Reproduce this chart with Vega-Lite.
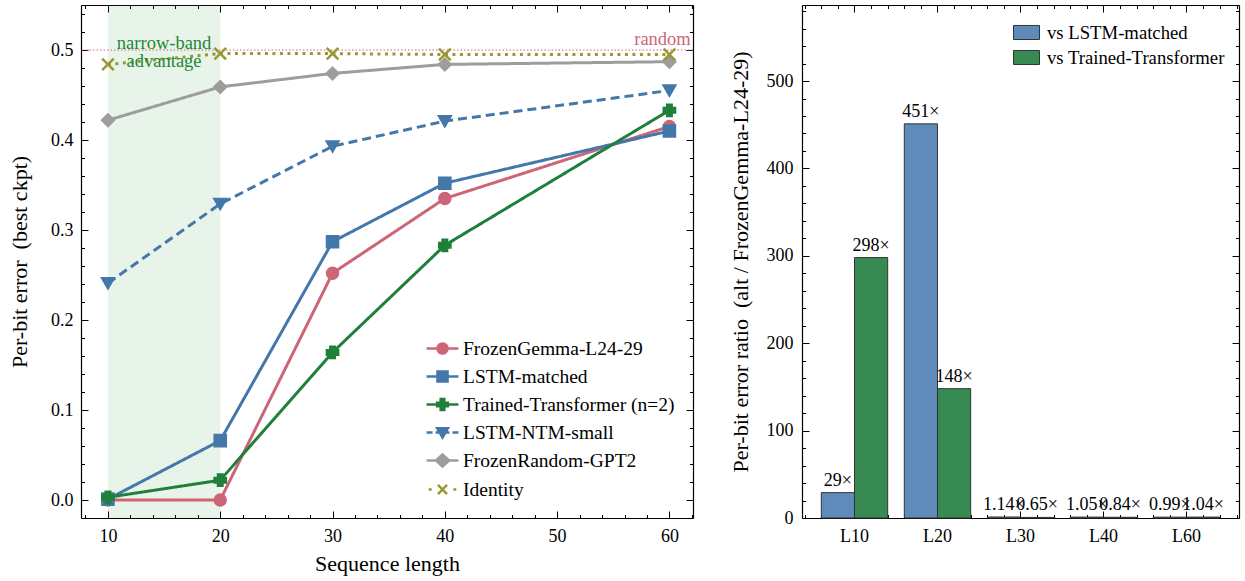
{
  "$schema": "https://vega.github.io/schema/vega-lite/v6.json",
  "padding": {"left": 8, "top": 4, "right": 2, "bottom": 5},
  "background": "white",
  "datasets": {
    "perf": [
      {"model": "FrozenGemma-L24-29", "len": 10, "err": 0.0},
      {"model": "FrozenGemma-L24-29", "len": 20, "err": 0.0},
      {"model": "FrozenGemma-L24-29", "len": 30, "err": 0.252},
      {"model": "FrozenGemma-L24-29", "len": 40, "err": 0.335},
      {"model": "FrozenGemma-L24-29", "len": 60, "err": 0.415},
      {"model": "LSTM-matched", "len": 10, "err": 0.001},
      {"model": "LSTM-matched", "len": 20, "err": 0.066},
      {"model": "LSTM-matched", "len": 30, "err": 0.287},
      {"model": "LSTM-matched", "len": 40, "err": 0.352},
      {"model": "LSTM-matched", "len": 60, "err": 0.41},
      {"model": "Trained-Transformer (n=2)", "len": 10, "err": 0.003},
      {"model": "Trained-Transformer (n=2)", "len": 20, "err": 0.022},
      {"model": "Trained-Transformer (n=2)", "len": 30, "err": 0.164},
      {"model": "Trained-Transformer (n=2)", "len": 40, "err": 0.283},
      {"model": "Trained-Transformer (n=2)", "len": 60, "err": 0.433},
      {"model": "LSTM-NTM-small", "len": 10, "err": 0.241},
      {"model": "LSTM-NTM-small", "len": 20, "err": 0.329},
      {"model": "LSTM-NTM-small", "len": 30, "err": 0.393},
      {"model": "LSTM-NTM-small", "len": 40, "err": 0.421},
      {"model": "LSTM-NTM-small", "len": 60, "err": 0.455},
      {"model": "FrozenRandom-GPT2", "len": 10, "err": 0.422},
      {"model": "FrozenRandom-GPT2", "len": 20, "err": 0.459},
      {"model": "FrozenRandom-GPT2", "len": 30, "err": 0.474},
      {"model": "FrozenRandom-GPT2", "len": 40, "err": 0.484},
      {"model": "FrozenRandom-GPT2", "len": 60, "err": 0.487},
      {"model": "Identity", "len": 10, "err": 0.484},
      {"model": "Identity", "len": 20, "err": 0.496},
      {"model": "Identity", "len": 30, "err": 0.496},
      {"model": "Identity", "len": 40, "err": 0.495},
      {"model": "Identity", "len": 60, "err": 0.495}
    ],
    "ratio": [
      {"group": "L10", "series": "vs LSTM-matched", "value": 29, "label": "29×"},
      {"group": "L10", "series": "vs Trained-Transformer", "value": 298, "label": "298×"},
      {"group": "L20", "series": "vs LSTM-matched", "value": 451, "label": "451×"},
      {"group": "L20", "series": "vs Trained-Transformer", "value": 148, "label": "148×"},
      {"group": "L30", "series": "vs LSTM-matched", "value": 1.14, "label": "1.14×"},
      {"group": "L30", "series": "vs Trained-Transformer", "value": 0.65, "label": "0.65×"},
      {"group": "L40", "series": "vs LSTM-matched", "value": 1.05, "label": "1.05×"},
      {"group": "L40", "series": "vs Trained-Transformer", "value": 0.84, "label": "0.84×"},
      {"group": "L60", "series": "vs LSTM-matched", "value": 0.99, "label": "0.99×"},
      {"group": "L60", "series": "vs Trained-Transformer", "value": 1.04, "label": "1.04×"}
    ],
    "band": [{"start": 10, "end": 20}],
    "one": [{"note": "annotation"}]
  },
  "spacing": 35,
  "resolve": {"legend": {"opacity": "independent", "fill": "independent"}},
  "hconcat": [
    {
      "width": 612,
      "height": 513,
      "layer": [
        {
          "data": {"name": "band"},
          "mark": {"type": "rect", "color": "#228833", "opacity": 0.1},
          "encoding": {
            "x": {"field": "start", "type": "quantitative", "scale": {"domain": [7.6, 62.1], "nice": false, "zero": false}, "axis": null},
            "x2": {"field": "end"}
          }
        },
        {
          "data": {"name": "one"},
          "mark": {"type": "rule", "color": "#CC6677", "strokeDash": [1.5, 2], "strokeWidth": 1},
          "encoding": {
            "y": {"datum": 0.5, "type": "quantitative", "scale": {"domain": [-0.02, 0.55], "nice": false, "zero": false}, "axis": null}
          }
        },
        {
          "data": {"name": "perf"},
          "mark": {"type": "line", "strokeWidth": 3, "strokeCap": "butt"},
          "encoding": {
            "x": {
              "field": "len", "type": "quantitative",
              "scale": {"domain": [7.6, 62.1], "nice": false, "zero": false},
              "axis": {
                "orient": "bottom", "title": "Sequence length",
                "values": [8, 10, 12, 14, 16, 18, 20, 22, 24, 26, 28, 30, 32, 34, 36, 38, 40, 42, 44, 46, 48, 50, 52, 54, 56, 58, 60, 62],
                "labelExpr": "datum.value % 10 === 0 ? datum.label : ''",
                "tickSize": {"condition": {"test": "datum.value % 10 === 0", "value": -7}, "value": -3.5},
                "labelFont": "Liberation Serif",
                "labelPadding": 16, "titlePadding": 8
              }
            },
            "y": {
              "field": "err", "type": "quantitative",
              "scale": {"domain": [-0.02, 0.55], "nice": false, "zero": false},
              "axis": {
                "orient": "left", "title": "Per-bit error \u00a0(best ckpt)",
                "values": [0, 0.02, 0.04, 0.06, 0.08, 0.1, 0.12, 0.14, 0.16, 0.18, 0.2, 0.22, 0.24, 0.26, 0.28, 0.3, 0.32, 0.34, 0.36, 0.38, 0.4, 0.42, 0.44, 0.46, 0.48, 0.5, 0.52, 0.54],
                "labelExpr": "abs(datum.value*10 - round(datum.value*10)) < 0.001 ? format(datum.value, '.1f') : ''",
                "tickSize": {"condition": {"test": "abs(datum.value*10 - round(datum.value*10)) < 0.001", "value": -7}, "value": -3.5},
                "labelFont": "Liberation Serif",
                "labelPadding": 15, "titlePadding": 19
              }
            },
            "color": {
              "field": "model", "type": "nominal",
              "scale": {
                "domain": ["FrozenGemma-L24-29", "LSTM-matched", "Trained-Transformer (n=2)", "LSTM-NTM-small", "FrozenRandom-GPT2", "Identity"],
                "range": ["#CC6677", "#4477AA", "#208039", "#4477AA", "#9d9d9d", "#999933"]
              },
              "legend": null
            },
            "strokeDash": {
              "field": "model", "type": "nominal",
              "scale": {
                "domain": ["FrozenGemma-L24-29", "LSTM-matched", "Trained-Transformer (n=2)", "LSTM-NTM-small", "FrozenRandom-GPT2", "Identity"],
                "range": [[1, 0], [1, 0], [1, 0], [9, 5], [1, 0], [3, 4.5]]
              },
              "legend": null
            }
          }
        },
        {
          "data": {"name": "perf"},
          "mark": {"type": "point", "filled": true, "opacity": 1, "strokeWidth": 2.5},
          "encoding": {
            "x": {"field": "len", "type": "quantitative", "scale": {"domain": [7.6, 62.1], "nice": false, "zero": false}, "axis": null},
            "y": {"field": "err", "type": "quantitative", "scale": {"domain": [-0.02, 0.55], "nice": false, "zero": false}, "axis": null},
            "color": {"field": "model", "type": "nominal", "legend": null},
            "stroke": {
              "field": "model", "type": "nominal",
              "scale": {
                "domain": ["FrozenGemma-L24-29", "LSTM-matched", "Trained-Transformer (n=2)", "LSTM-NTM-small", "FrozenRandom-GPT2", "Identity"],
                "range": ["#CC6677", "#4477AA", "#208039", "#4477AA", "#9d9d9d", "#999933"]
              },
              "legend": null
            },
            "shape": {
              "field": "model", "type": "nominal",
              "scale": {
                "domain": ["FrozenGemma-L24-29", "LSTM-matched", "Trained-Transformer (n=2)", "LSTM-NTM-small", "FrozenRandom-GPT2", "Identity"],
                "range": ["circle", "square", "cross", "triangle-down", "diamond", "M-1,-1L1,1M-1,1L1,-1"]
              },
              "legend": null
            },
            "size": {
              "field": "model", "type": "nominal",
              "scale": {
                "domain": ["FrozenGemma-L24-29", "LSTM-matched", "Trained-Transformer (n=2)", "LSTM-NTM-small", "FrozenRandom-GPT2", "Identity"],
                "range": [120, 135, 140, 140, 190, 105]
              },
              "legend": null
            }
          }
        },
        {
          "data": {"name": "perf"},
          "mark": {"type": "point", "size": 0, "strokeWidth": 0, "filled": true},
          "encoding": {
            "x": {"field": "len", "type": "quantitative", "scale": {"domain": [7.6, 62.1], "nice": false, "zero": false}, "axis": null},
            "y": {"field": "err", "type": "quantitative", "scale": {"domain": [-0.02, 0.55], "nice": false, "zero": false}, "axis": null},
            "opacity": {
              "field": "model", "type": "nominal",
              "sort": ["FrozenGemma-L24-29", "LSTM-matched", "Trained-Transformer (n=2)", "LSTM-NTM-small", "FrozenRandom-GPT2", "Identity"],
              "scale": {"range": [1, 1]},
              "legend": {
                "title": null, "orient": "bottom-right", "offset": 18, "padding": 0,
                "symbolSize": 576, "symbolStrokeWidth": 2.5,
                "labelFont": "Liberation Serif", "labelFontSize": 19.5, "labelOffset": 7, "rowPadding": 4, "labelLimit": 400,
                "encoding": {
                  "symbols": {
                    "shape": {"value": {"expr": "datum.value === 'FrozenGemma-L24-29' ? 'M-1.33,0H1.33M0.42,0A0.42,0.42,0,1,1,-0.42,0A0.42,0.42,0,1,1,0.42,0Z' : datum.value === 'LSTM-matched' ? 'M-1.33,0H1.33M-0.42,-0.42H0.42V0.42H-0.42Z' : datum.value === 'Trained-Transformer (n=2)' ? 'M-1.33,0H1.33M-0.15,-0.45H0.15V-0.15H0.45V0.15H0.15V0.45H-0.15V0.15H-0.45V-0.15H-0.15Z' : datum.value === 'LSTM-NTM-small' ? 'M-1.33,0H-0.83M-0.58,0H-0.3M0.3,0H0.58M0.83,0H1.33M-0.45,-0.35H0.45L0,0.42Z' : datum.value === 'FrozenRandom-GPT2' ? 'M-1.33,0H1.33M0,-0.5L0.55,0L0,0.5L-0.55,0Z' : 'M-1.15,0H-0.9M0.9,0H1.15M-0.38,-0.38L0.38,0.38M-0.38,0.38L0.38,-0.38'"}},
                    "fill": {"value": {"expr": "datum.value === 'FrozenGemma-L24-29' ? '#CC6677' : datum.value === 'LSTM-matched' ? '#4477AA' : datum.value === 'Trained-Transformer (n=2)' ? '#208039' : datum.value === 'LSTM-NTM-small' ? '#4477AA' : datum.value === 'FrozenRandom-GPT2' ? '#9d9d9d' : '#999933'"}},
                    "stroke": {"value": {"expr": "datum.value === 'FrozenGemma-L24-29' ? '#CC6677' : datum.value === 'LSTM-matched' ? '#4477AA' : datum.value === 'Trained-Transformer (n=2)' ? '#208039' : datum.value === 'LSTM-NTM-small' ? '#4477AA' : datum.value === 'FrozenRandom-GPT2' ? '#9d9d9d' : '#999933'"}},
                    "size": {"value": 576},
                    "strokeWidth": {"value": 2.5},
                    "fillOpacity": {"value": 1},
                    "strokeOpacity": {"value": 1}
                  }
                }
              }
            }
          }
        },
        {
          "data": {"name": "one"},
          "mark": {"type": "text", "text": ["narrow-band", "advantage"], "color": "#228833", "font": "Liberation Serif", "fontSize": 18.5, "lineHeight": 18, "align": "center", "baseline": "middle"},
          "encoding": {
            "x": {"datum": 15, "type": "quantitative", "axis": null},
            "y": {"datum": 0.508, "type": "quantitative", "axis": null}
          }
        },
        {
          "data": {"name": "one"},
          "mark": {"type": "text", "text": "random", "color": "#CC6677", "font": "Liberation Serif", "fontSize": 18.5, "align": "right", "baseline": "bottom", "dy": -1},
          "encoding": {
            "x": {"datum": 61.9, "type": "quantitative", "axis": null},
            "y": {"datum": 0.5, "type": "quantitative", "axis": null}
          }
        },
        {
          "data": {"name": "perf"},
          "mark": {"type": "point", "opacity": 0},
          "encoding": {
            "x": {
              "field": "len", "type": "quantitative",
              "scale": {"domain": [7.6, 62.1], "nice": false, "zero": false},
              "axis": {
                "orient": "top", "title": null, "labels": false,
                "values": [8, 10, 12, 14, 16, 18, 20, 22, 24, 26, 28, 30, 32, 34, 36, 38, 40, 42, 44, 46, 48, 50, 52, 54, 56, 58, 60, 62],
                "tickSize": {"condition": {"test": "datum.value % 10 === 0", "value": -7}, "value": -3.5}
              }
            },
            "y": {
              "field": "err", "type": "quantitative",
              "scale": {"domain": [-0.02, 0.55], "nice": false, "zero": false},
              "axis": {
                "orient": "right", "title": null, "labels": false,
                "values": [0, 0.02, 0.04, 0.06, 0.08, 0.1, 0.12, 0.14, 0.16, 0.18, 0.2, 0.22, 0.24, 0.26, 0.28, 0.3, 0.32, 0.34, 0.36, 0.38, 0.4, 0.42, 0.44, 0.46, 0.48, 0.5, 0.52, 0.54],
                "tickSize": {"condition": {"test": "abs(datum.value*10 - round(datum.value*10)) < 0.001", "value": -7}, "value": -3.5}
              }
            }
          }
        }
      ],
      "resolve": {"axis": {"x": "independent", "y": "independent"}}
    },
    {
      "width": 437,
      "height": 513,
      "data": {"name": "ratio"},
      "layer": [
        {
          "layer": [
            {
              "mark": {"type": "bar", "stroke": "#333333", "strokeWidth": 1},
              "encoding": {
                "x": {
                  "field": "group", "type": "nominal",
                  "scale": {"domain": ["L10", "L20", "L30", "L40", "L60"], "paddingInner": 0.2, "paddingOuter": 0.2325},
                  "axis": {"orient": "bottom", "title": null, "labelAngle": 0, "tickSize": -7, "labelPadding": 16, "labelFont": "Liberation Serif"}
                },
                "xOffset": {"field": "series", "type": "nominal", "scale": {"domain": ["vs LSTM-matched", "vs Trained-Transformer"]}},
                "y": {
                  "field": "value", "type": "quantitative",
                  "scale": {"domain": [0, 587], "nice": false},
                  "axis": {
                    "orient": "left", "title": "Per-bit error ratio \u00a0(alt / FrozenGemma-L24-29)",
                    "values": [0, 20, 40, 60, 80, 100, 120, 140, 160, 180, 200, 220, 240, 260, 280, 300, 320, 340, 360, 380, 400, 420, 440, 460, 480, 500, 520, 540, 560, 580],
                    "labelExpr": "datum.value % 100 === 0 ? datum.label : ''",
                    "tickSize": {"condition": {"test": "datum.value % 100 === 0", "value": -7}, "value": -3.5},
                    "labelFont": "Liberation Serif",
                    "labelPadding": 16, "titlePadding": 14
                  }
                },
                "fill": {
                  "field": "series", "type": "nominal",
                  "scale": {"domain": ["vs LSTM-matched", "vs Trained-Transformer"], "range": ["#5F8BBA", "#378B52"]},
                  "legend": {
                    "title": null, "orient": "top-right", "offset": 14, "padding": 0,
                    "symbolType": "M-1,-0.54H1V0.54H-1Z", "symbolSize": 676,
                    "symbolStrokeColor": "#333333", "symbolStrokeWidth": 1, "symbolOpacity": 1,
                    "labelFont": "Liberation Serif", "labelFontSize": 18.7, "labelOffset": 7, "rowPadding": 1, "labelLimit": 400
                  }
                }
              }
            },
            {
              "mark": {"type": "text", "font": "Liberation Serif", "fontSize": 18, "baseline": "bottom", "dy": -3, "color": "black"},
              "encoding": {
                "x": {"field": "group", "type": "nominal", "axis": null},
                "xOffset": {"field": "series", "type": "nominal"},
                "y": {"field": "value", "type": "quantitative", "axis": null},
                "text": {"field": "label", "type": "nominal"}
              }
            },
            {
              "mark": {"type": "bar", "opacity": 0},
              "encoding": {
                "x": {
                  "field": "group", "type": "nominal",
                  "axis": {"orient": "top", "title": null, "labels": false, "tickSize": -7}
                },
                "y": {
                  "field": "value", "type": "quantitative", "stack": null,
                  "axis": {
                    "orient": "right", "title": null, "labels": false,
                    "values": [0, 20, 40, 60, 80, 100, 120, 140, 160, 180, 200, 220, 240, 260, 280, 300, 320, 340, 360, 380, 400, 420, 440, 460, 480, 500, 520, 540, 560, 580],
                    "tickSize": {"condition": {"test": "datum.value % 100 === 0", "value": -7}, "value": -3.5}
                  }
                }
              }
            }
          ],
          "resolve": {"axis": {"x": "independent", "y": "independent"}}
        },
        {
          "layer": [
            {
              "mark": {"type": "point", "opacity": 0},
              "encoding": {
                "x": {
                  "datum": 0, "type": "quantitative",
                  "scale": {"domain": [-0.632, 4.63], "nice": false, "zero": false},
                  "axis": {
                    "orient": "bottom", "title": null, "labels": false, "domain": false, "tickSize": -3.5,
                    "values": [-0.6, -0.4, -0.2, 0.2, 0.4, 0.6, 0.8, 1.2, 1.4, 1.6, 1.8, 2.2, 2.4, 2.6, 2.8, 3.2, 3.4, 3.6, 3.8, 4.2, 4.4, 4.6]
                  }
                }
              }
            },
            {
              "mark": {"type": "point", "opacity": 0},
              "encoding": {
                "x": {
                  "datum": 0, "type": "quantitative",
                  "scale": {"domain": [-0.632, 4.63], "nice": false, "zero": false},
                  "axis": {
                    "orient": "top", "title": null, "labels": false, "domain": false, "tickSize": -3.5,
                    "values": [-0.6, -0.4, -0.2, 0.2, 0.4, 0.6, 0.8, 1.2, 1.4, 1.6, 1.8, 2.2, 2.4, 2.6, 2.8, 3.2, 3.4, 3.6, 3.8, 4.2, 4.4, 4.6]
                  }
                }
              }
            }
          ],
          "resolve": {"axis": {"x": "independent"}}
        }
      ],
      "resolve": {"scale": {"x": "independent"}, "axis": {"x": "independent", "y": "independent"}}
    }
  ],
  "config": {
    "font": "Liberation Serif",
    "view": {"stroke": null},
    "axis": {
      "labelFont": "Liberation Serif", "labelFontSize": 18, "labelColor": "black",
      "titleFont": "Liberation Serif", "titleFontSize": 22, "titleFontWeight": "normal", "titleColor": "black",
      "domainColor": "black", "domainWidth": 1.2, "tickColor": "black", "tickWidth": 1, "grid": false
    },
    "legend": {"labelFont": "Liberation Serif"}
  }
}
